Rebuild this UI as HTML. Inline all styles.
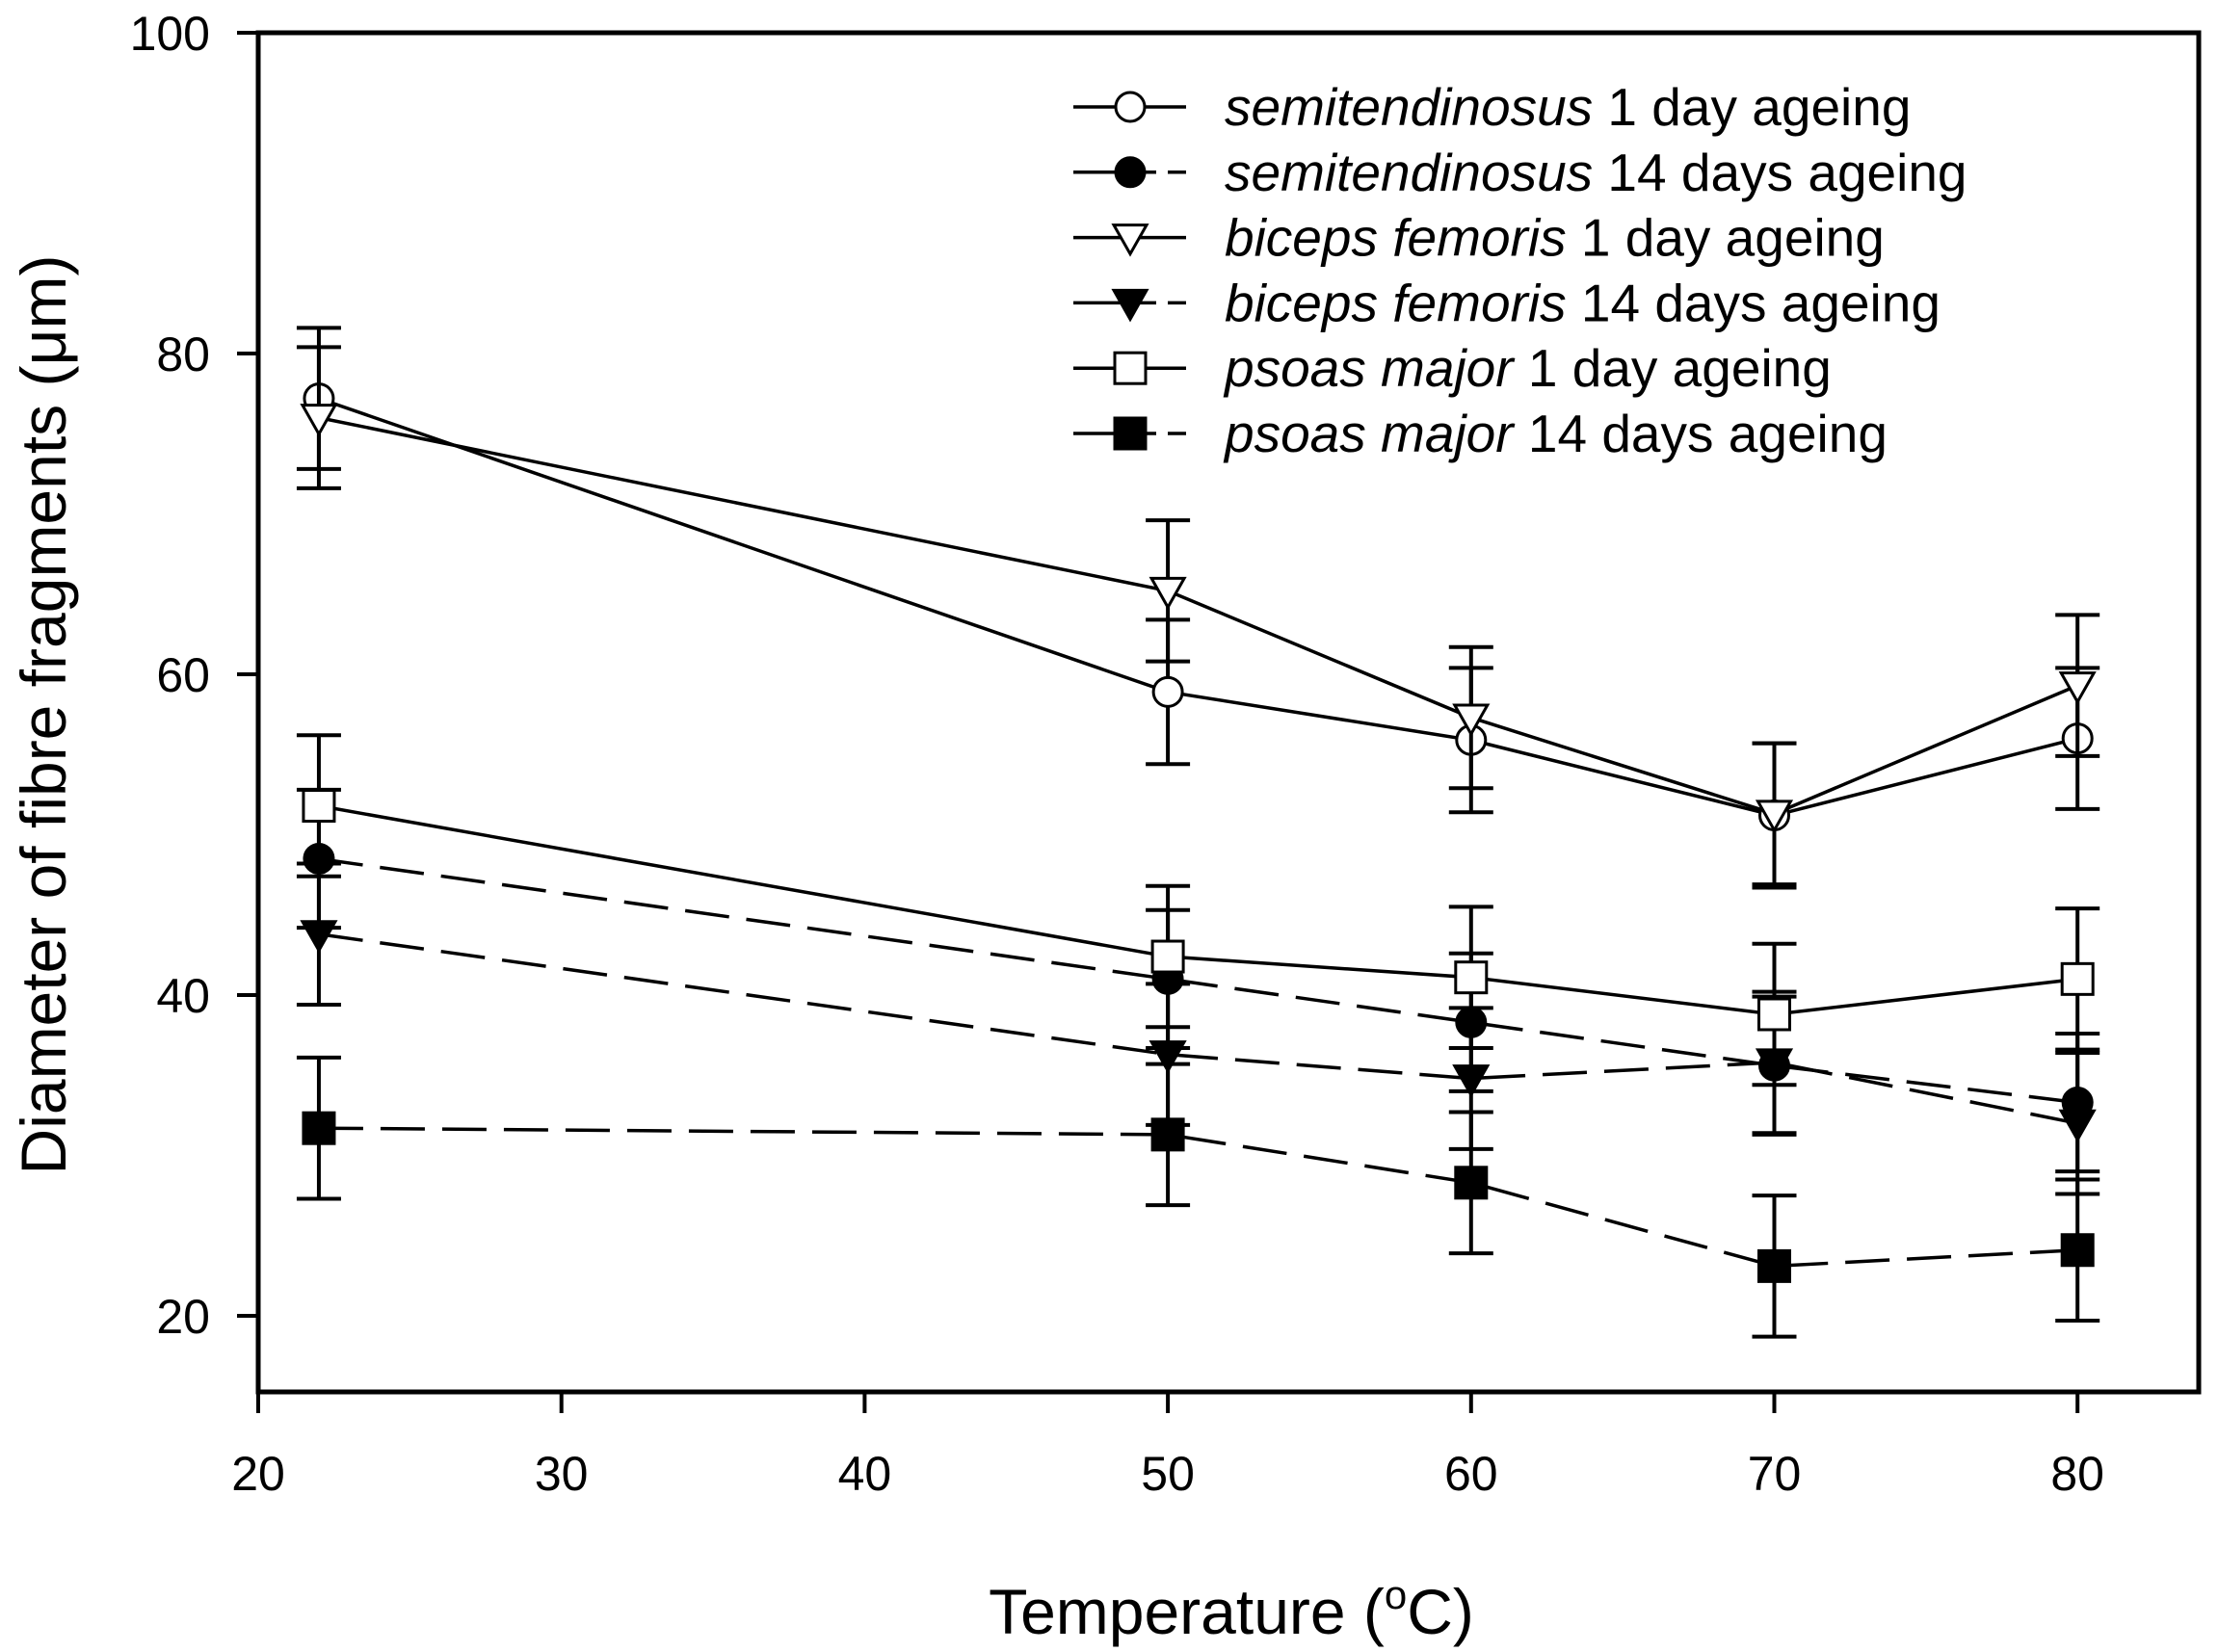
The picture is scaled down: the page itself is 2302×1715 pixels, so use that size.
<!DOCTYPE html>
<html><head><meta charset="utf-8"><style>
html,body{margin:0;padding:0;background:#fff}
svg{display:block;font-family:"Liberation Sans",Arial,sans-serif}
</style></head><body>
<svg id="chart" width="2302" height="1715" viewBox="0 0 2302 1715" xmlns="http://www.w3.org/2000/svg">
<rect width="2302" height="1715" fill="#fff"/>
<g id="plot"></g>
<text transform="translate(68,742) rotate(-90)" text-anchor="middle" font-size="66">Diameter of fibre fragments (μm)</text>
<text x="1278" y="1696" text-anchor="middle" font-size="66">Temperature (<tspan font-size="42" dy="-26">o</tspan><tspan dy="26">C)</tspan></text>
</svg>
<script>
const xValues = [22, 50, 60, 70, 80];
const xTicks = [20, 30, 40, 50, 60, 70, 80];
const yTicks = [20, 40, 60, 80, 100];
const semi1 = [77.2, 58.9, 55.9, 51.2, 56.0];
const semi1Err = [4.4, 4.5, 4.5, 4.5, 4.4];
const semi14 = [48.5, 41.0, 38.3, 35.6, 33.3];
const semi14Err = [4.3, 4.3, 4.3, 4.3, 4.3];
const bic1 = [76.0, 65.2, 57.3, 51.3, 59.3];
const bic1Err = [4.4, 4.4, 4.4, 4.4, 4.4];
const bic14 = [43.8, 36.3, 34.8, 35.8, 32.0];
const bic14Err = [4.4, 4.4, 4.4, 4.4, 4.4];
const pso1 = [51.8, 42.4, 41.1, 38.8, 41.0];
const pso1Err = [4.4, 4.4, 4.4, 4.4, 4.4];
const pso14 = [31.7, 31.3, 28.3, 23.1, 24.1];
const pso14Err = [4.4, 4.4, 4.4, 4.4, 4.4];

const NS = 'http://www.w3.org/2000/svg';
const L = 268, T = 34, R = 2282, B = 1445;
const xs = v => 268 + (v - 20) * 31.47;
const ys = v => 34 + (100 - v) * 16.65;
const g = document.getElementById('plot');
function mk(tag, attrs, parent) {
  const e = document.createElementNS(NS, tag);
  for (const k in attrs) e.setAttribute(k, attrs[k]);
  (parent || g).appendChild(e);
  return e;
}
function marker(shape, filled, cx, cy, parent) {
  const fill = filled ? '#000' : '#fff';
  const st = {fill: fill, stroke: '#000', 'stroke-width': 3};
  let e;
  if (shape === 'circle') e = mk('circle', Object.assign({cx: cx, cy: cy, r: 15}, st), parent);
  else if (shape === 'square') e = mk('rect', Object.assign({x: cx - 16, y: cy - 16, width: 32, height: 32}, st), parent);
  else e = mk('polygon', Object.assign({points: (cx - 17) + ',' + (cy - 13) + ' ' + (cx + 17) + ',' + (cy - 13) + ' ' + cx + ',' + (cy + 17)}, st), parent);
  return e;
}
const ax = mk('rect', {x: L, y: T, width: R - L, height: B - T, fill: 'none', stroke: '#000', 'stroke-width': 5});


xTicks.forEach(t => {
  const x = xs(t);
  const tk = mk('line', {x1: x, x2: x, y1: B, y2: B + 22, stroke: '#000', 'stroke-width': 4});
  
  
  const tx = mk('text', {x: x, y: 1547, 'text-anchor': 'middle', 'font-size': 50});
  
  
  tx.textContent = t;
});
yTicks.forEach(t => {
  const y = ys(t);
  const tk = mk('line', {x1: L - 22, x2: L, y1: y, y2: y, stroke: '#000', 'stroke-width': 4});
  
  
  const tx = mk('text', {x: 218, y: y + 18, 'text-anchor': 'end', 'font-size': 50});
  
  
  tx.textContent = t;
});
const series = [
  {name: 'semi-1d', vals: semi1, err: semi1Err, shape: 'circle', filled: false, dash: false, it: 'semitendinosus', rest: ' 1 day ageing'},
  {name: 'semi-14d', vals: semi14, err: semi14Err, shape: 'circle', filled: true, dash: true, it: 'semitendinosus', rest: ' 14 days ageing'},
  {name: 'biceps-1d', vals: bic1, err: bic1Err, shape: 'tri', filled: false, dash: false, it: 'biceps femoris', rest: ' 1 day ageing'},
  {name: 'biceps-14d', vals: bic14, err: bic14Err, shape: 'tri', filled: true, dash: true, it: 'biceps femoris', rest: ' 14 days ageing'},
  {name: 'psoas-1d', vals: pso1, err: pso1Err, shape: 'square', filled: false, dash: false, it: 'psoas major', rest: ' 1 day ageing'},
  {name: 'psoas-14d', vals: pso14, err: pso14Err, shape: 'square', filled: true, dash: true, it: 'psoas major', rest: ' 14 days ageing'}
];
series.forEach((s, si) => {
  const sg = mk('g', {});
  
  
  s.vals.forEach((v, i) => {
    const x = xs(xValues[i]), y1 = ys(v + s.err[i]), y2 = ys(v - s.err[i]);
    const eb = mk('path', {d: 'M' + x + ',' + y1 + 'V' + y2 + 'M' + (x - 23) + ',' + y1 + 'H' + (x + 23) + 'M' + (x - 23) + ',' + y2 + 'H' + (x + 23), stroke: '#000', 'stroke-width': 4, fill: 'none'}, sg);
    
    
  });
  const pts = s.vals.map((v, i) => xs(xValues[i]) + ',' + ys(v)).join(' ');
  const ln = mk('polyline', {points: pts, fill: 'none', stroke: '#000', 'stroke-width': 3.5, 'stroke-dasharray': s.dash ? '46,18' : 'none'}, sg);
  
  
  s.vals.forEach((v, i) => {
    const m = marker(s.shape, s.filled, xs(xValues[i]), ys(v), sg);
    
    
  });
  const ly = 111 + si * 67.8;
  const lg = mk('g', {});
  
  
  mk('line', {x1: 1114, x2: s.dash ? 1200 : 1231, y1: ly, y2: ly, stroke: '#000', 'stroke-width': 3.5}, lg);
  if (s.dash) mk('line', {x1: 1212, x2: 1231, y1: ly, y2: ly, stroke: '#000', 'stroke-width': 3.5}, lg);
  marker(s.shape, s.filled, 1173, ly, lg);
  const tx = mk('text', {x: 1271, y: ly + 19, 'font-size': 55}, lg);
  const a = mk('tspan', {'font-style': 'italic'}, tx);
  a.textContent = s.it;
  const b = mk('tspan', {}, tx);
  b.textContent = s.rest;
});
</script>
</body></html>
